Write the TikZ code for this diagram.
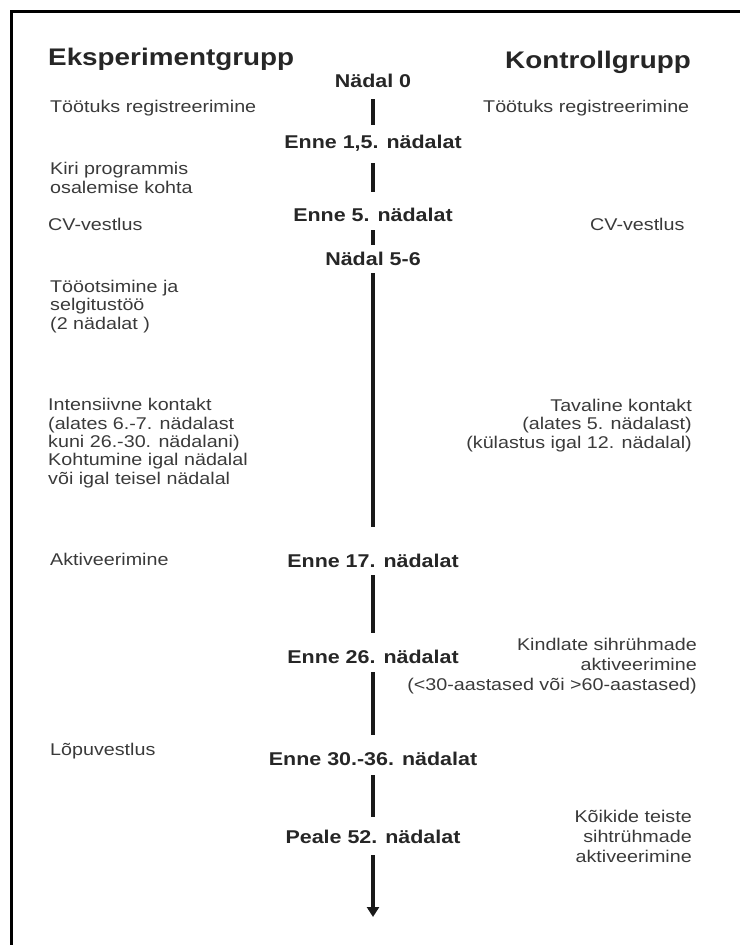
\documentclass[tikz,border=0pt]{standalone}
\usepackage{fontspec}
\setmainfont{Liberation Sans}[FakeStretch=1.16]
\usetikzlibrary{arrows.meta}
\definecolor{textgray}{HTML}{3A3A3A}
\definecolor{labelgray}{HTML}{262626}

\tikzset{
    note/.style={font=\fontsize{17}{18.3}\selectfont, text=textgray, inner sep=0pt},
    leftnote/.style={note, anchor=base west, align=left},
    rightnote/.style={note, anchor=base east, align=right},
    wide/.style={font=\fontsize{17}{19.8}\selectfont},
    week/.style={font=\fontsize{18.5}{20}\selectfont\bfseries, text=labelgray,
        inner sep=0pt, text height=13pt, text depth=0pt, anchor=base},
    grouptitle/.style={font=\fontsize{24}{28}\selectfont\bfseries, text=labelgray,
        inner sep=0pt, anchor=base west},
    timeline/.style={line width=3.2pt, black!90},
}

\begin{document}
\begin{tikzpicture}[x=1pt, y=-1pt]
    \useasboundingbox (0,0) rectangle (739,945);
    % Frame (open at right and bottom)
    \draw[line width=3.5pt] (11.3,950) -- (11.3,11.3) -- (745,11.3);
    % Group titles
    \node[grouptitle] (expTitle) at (48,65) {Eksperimentgrupp};
    \node[grouptitle] (ctrlTitle) at (505,68) {Kontrollgrupp};
    % Time line labels
    \node[week] (t0) at (373,87) {Nädal 0};
    \node[week] (t1) at (373,148) {Enne 1,5. nädalat};
    \node[week] (t2) at (373,221) {Enne 5. nädalat};
    \node[week] (t3) at (373,265) {Nädal 5-6};
    \node[week] (t4) at (373,567) {Enne 17. nädalat};
    \node[week] (t5) at (373,663) {Enne 26. nädalat};
    \node[week] (t6) at (373,765) {Enne 30.-36. nädalat};
    \node[week] (t7) at (373,843) {Peale 52. nädalat};
    \coordinate (tEnd) at (373,917);
    % Segments between the labels
    \foreach \a/\b/\s/\e in {t0/t1/12/10, t1/t2/15/16, t2/t3/9/7, t3/t4/8/27,
                             t4/t5/8/17, t5/t6/9/17, t6/t7/10/13} {
        \draw[timeline, shorten <=\s pt, shorten >=\e pt] (\a.south) -- (\b.north);
    }
    \draw[timeline, -{Triangle[width=12pt,length=10pt]}, shorten <=12pt] (t7.south) -- (tEnd);
    % Experimental group (base = last line)
    \node[leftnote] (e1) at (50,112) {Töötuks registreerimine};
    \node[leftnote] (e2) at (50,193) {Kiri programmis\\osalemise kohta};
    \node[leftnote] (e3) at (48,230) {CV-vestlus};
    \node[leftnote] (e4) at (50,329) {Tööotsimine ja\\selgitustöö\\(2 nädalat )};
    \node[leftnote] (e5) at (48,484) {Intensiivne kontakt\\(alates 6.-7. nädalast\\kuni 26.-30. nädalani)\\Kohtumine igal nädalal\\või igal teisel nädalal};
    \node[leftnote] (e6) at (50,565) {Aktiveerimine};
    \node[leftnote] (e7) at (50,755) {Lõpuvestlus};
    % Control group
    \node[leftnote] (c1) at (483,112) {Töötuks registreerimine};
    \node[leftnote] (c2) at (590,230) {CV-vestlus};
    \node[rightnote] (c3) at (692,448) {Tavaline kontakt\\(alates 5. nädalast)\\(külastus igal 12. nädalal)};
    \node[rightnote, wide] (c4) at (697,690) {Kindlate sihrühmade\\aktiveerimine\\(<30-aastased või >60-aastased)};
    \node[rightnote, wide] (c5) at (692,862) {Kõikide teiste\\sihtrühmade\\aktiveerimine};
\end{tikzpicture}
\end{document}
